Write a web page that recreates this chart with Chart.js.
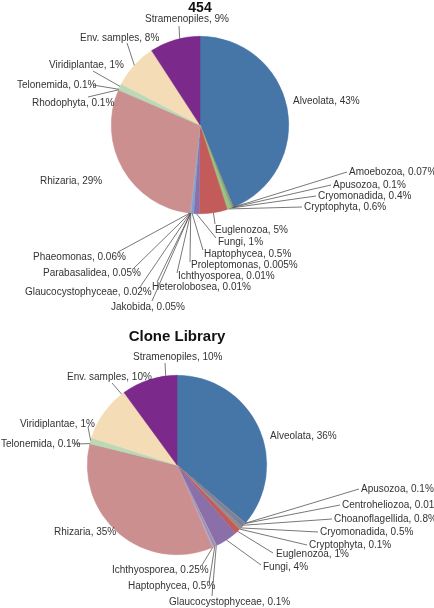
<!DOCTYPE html>
<html>
<head>
<meta charset="utf-8">
<script src="https://cdn.jsdelivr.net/npm/chart.js@4/dist/chart.umd.min.js"></script>
<style>
  body { margin: 0; background: #fff; }
  #wrap { position: relative; width: 434px; height: 608px; }
  canvas { position: absolute; left: 0; top: 0; }
</style>
</head>
<body>
<div id="wrap">
  <canvas id="top" width="434" height="608"></canvas>
  <canvas id="bottom" width="434" height="608"></canvas>
</div>
<script>
// 454 pyrosequencing
const topLabels = ['Alveolata', 'Amoebozoa', 'Apusozoa', 'Cryomonadida', 'Cryptophyta', 'Euglenozoa', 'Fungi',
  'Haptophycea', 'Proleptomonas', 'Ichthyosporea', 'Heterolobosea', 'Jakobida', 'Glaucocystophyceae',
  'Parabasalidea', 'Phaeomonas', 'Rhizaria', 'Rhodophyta', 'Telonemida', 'Viridiplantae', 'Env. samples', 'Stramenopiles']
const topValues = [43, 0.07, 0.1, 0.4, 0.6, 5, 1, 0.5, 0.005, 0.01, 0.01, 0.05, 0.02, 0.05, 0.06, 29, 0.1, 0.1, 1, 8, 9]
const topColors = ['#4675a8', '#9a9a9a', '#7d7d7d', '#8fae7a', '#9bc27e', '#c45b5b', '#8a6fa8',
  '#7d9fd6', '#a4a4b8', '#9a9aae', '#b0b0c0', '#a0a0a0', '#b8b8c8', '#9d9db2', '#a8a8bc',
  '#cc8f8f', '#c8c8c8', '#a9cfa4', '#bcd8b4', '#f3dcb6', '#7b2a8b']

// clone library
const botLabels = ['Alveolata', 'Apusozoa', 'Centroheliozoa', 'Choanoflagellida', 'Cryomonadida', 'Cryptophyta',
  'Euglenozoa', 'Fungi', 'Glaucocystophyceae', 'Haptophycea', 'Ichthyosporea', 'Rhizaria', 'Telonemida',
  'Viridiplantae', 'Env. samples', 'Stramenopiles']
const botValues = [36, 0.1, 0.01, 0.8, 0.5, 0.1, 1, 4, 0.1, 0.5, 0.25, 35, 0.1, 1, 10, 10]
const botColors = ['#4675a8', '#8a8a8a', '#9a9a9a', '#7f7f9a', '#8c8c8c', '#a0a0a0', '#c45b5b', '#8a6fa8',
  '#b0b0b0', '#a08fb8', '#b7a6c6', '#cc8f8f', '#a9cfa4', '#bcd8b4', '#f3dcb6', '#7b2a8b']

// label text x, y, leader end x, y (null = no line), where on the slice the line starts (0..1)
const topSpots = [
  [293, 101, null, null], [349, 172, 347, 172], [333, 185, 331, 185], [318, 196, 316, 196], [304, 207, 302, 207],
  [215, 230, 215, 224], [218, 242, 216, 238], [204, 254, 203, 250], [191, 265, 190, 262], [178, 276, 177, 273],
  [152, 287, 157, 282], [111, 307, 152, 301], [25, 292, 140, 287], [43, 273, 134, 268], [33, 257, 118, 252],
  [40, 181, null, null], [32, 103, 88, 97], [17, 85, 93, 85], [49, 65, 93, 71], [80, 38, 127, 43], [145, 19, 179, 26, 0.6]
]
const botSpots = [
  [270, 436, null, null], [361, 489, 359, 489], [342, 505, 340, 505], [334, 519, 332, 519], [320, 532, 318, 532],
  [309, 545, 307, 545], [276, 554, 273, 553], [263, 567, 261, 565], [169, 602, 212, 596], [128, 586, 209, 583],
  [112, 570, 202, 565], [54, 532, null, null], [1, 444, 74, 444], [20, 424, 88, 427], [67, 377, 112, 383, 0.95],
  [133, 357, 165, 363, 0.8]
]

const leaders = {
  id: 'leaders',
  afterDatasetsDraw(chart, args, opts) {
    const ctx = chart.ctx
    const arcs = chart.getDatasetMeta(0).data
    const names = chart.data.labels
    const vals = chart.data.datasets[0].data
    ctx.save()
    ctx.strokeStyle = '#555'
    ctx.lineWidth = 0.8
    ctx.fillStyle = '#333'
    ctx.font = '10px "Liberation Sans", Arial, sans-serif'
    ctx.textBaseline = 'middle'
    ctx.textAlign = 'left'
    for (var i = 0; i < opts.spots.length; i++) {
      var s = opts.spots[i]
      if (s[2] != null) {
        var p = arcs[i].getProps(['x', 'y', 'startAngle', 'endAngle', 'outerRadius'], true)
        var f = s[4] == null ? 0.5 : s[4]
        var m = p.startAngle + (p.endAngle - p.startAngle) * f
        ctx.beginPath()
        ctx.moveTo(p.x + Math.cos(m) * p.outerRadius, p.y + Math.sin(m) * p.outerRadius)
        ctx.lineTo(s[2], s[3])
        ctx.stroke()
      }
      ctx.fillText(names[i] + ', ' + vals[i] + '%', s[0], s[1])
    }
    ctx.font = 'bold ' + opts.titleSize + 'px "Liberation Sans", Arial, sans-serif'
    ctx.fillStyle = '#111'
    ctx.textAlign = 'center'
    ctx.fillText(opts.title, opts.titleX, opts.titleY)
    ctx.restore()
  }
}

function makePie(id, labels, values, colors, spots, pad, title) {
  return new Chart(document.getElementById(id), {
    type: 'pie',
    data: {
      labels: labels,
      datasets: [{
        data: values,
        backgroundColor: colors,
        borderColor: colors,
        borderWidth: 0.5
      }]
    },
    options: {
      responsive: false,
      animation: false,
      layout: { padding: pad },
      plugins: {
        legend: { display: false },
        tooltip: { enabled: false },
        leaders: { spots: spots, title: title[0], titleX: title[1], titleY: title[2], titleSize: title[3] }
      }
    },
    plugins: [leaders]
  })
}

makePie('top', topLabels, topValues, topColors, topSpots,
  { left: 111, right: 145, top: 36, bottom: 394 }, ['454', 200, 8, 14])
makePie('bottom', botLabels, botValues, botColors, botSpots,
  { left: 87, right: 167, top: 375, bottom: 53 }, ['Clone Library', 177, 337, 15])
</script>
</body>
</html>
